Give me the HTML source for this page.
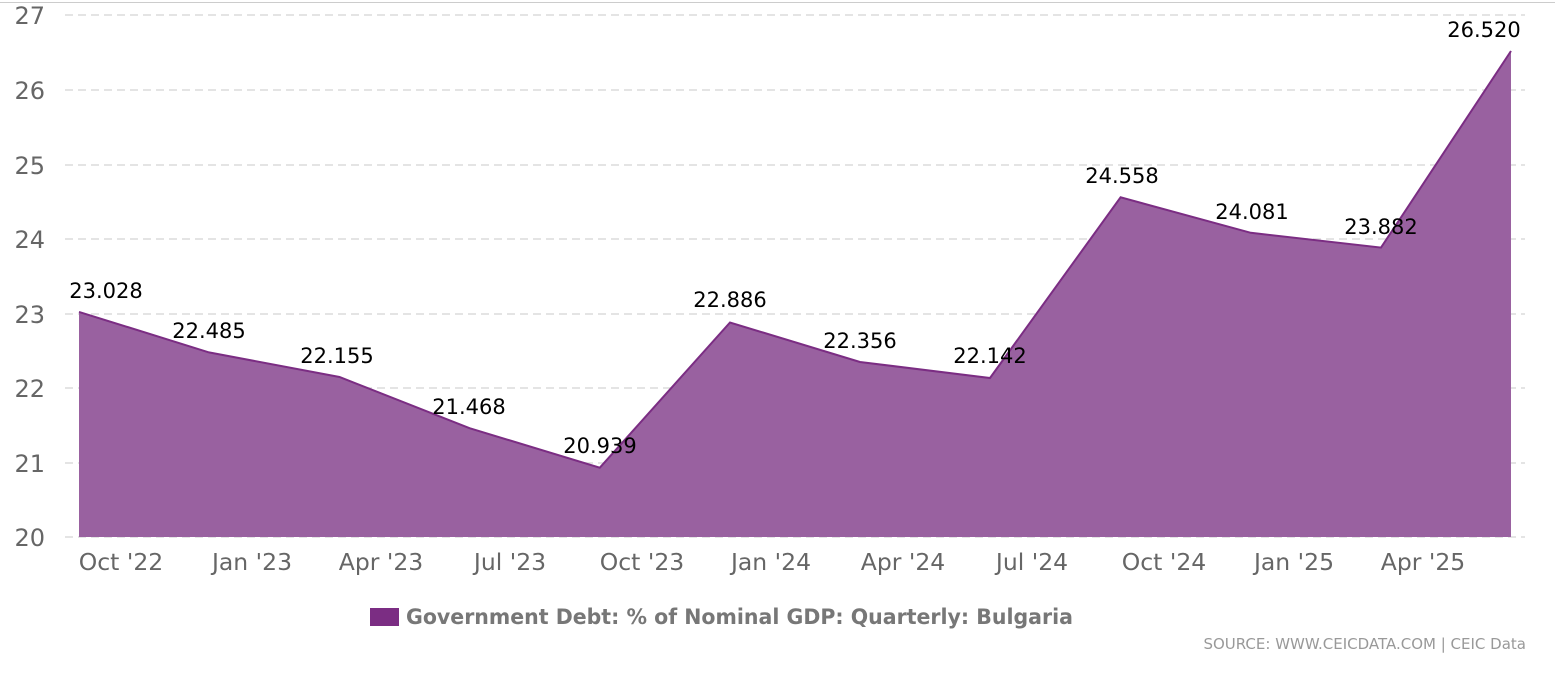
<!DOCTYPE html>
<html><head><meta charset="utf-8"><style>
html,body{margin:0;padding:0;background:#fff;}
svg{display:block;font-family:"DejaVu Sans","Liberation Sans",sans-serif;}
</style></head><body>
<svg width="1555" height="674" viewBox="0 0 1555 674">
<line x1="0" y1="2.5" x2="1555" y2="2.5" stroke="#ccc" stroke-width="1"/>
<g stroke="#dcdcdc" stroke-width="1.5" stroke-dasharray="8,5">
<line x1="65" y1="15" x2="1525" y2="15"/>
<line x1="65" y1="90" x2="1525" y2="90"/>
<line x1="65" y1="165" x2="1525" y2="165"/>
<line x1="65" y1="239" x2="1525" y2="239"/>
<line x1="65" y1="314" x2="1525" y2="314"/>
<line x1="65" y1="388" x2="1525" y2="388"/>
<line x1="65" y1="463" x2="1525" y2="463"/>
<line x1="65" y1="537" x2="1525" y2="537"/>
</g>
<g fill="#666" font-size="24" text-anchor="end">
<text x="45" y="24">27</text><text x="45" y="99">26</text><text x="45" y="174">25</text>
<text x="45" y="248">24</text><text x="45" y="323">23</text><text x="45" y="397">22</text>
<text x="45" y="472">21</text><text x="45" y="546">20</text>
</g>
<polygon fill="#9961a0" points="79,537 79,311.9 209,352.4 339.5,377 469.6,428.2 599.8,467.7 730,322.5 860,362 990,378 1120.6,197.3 1250.8,232.8 1381,247.6 1511,51 1511,537"/>
<polyline fill="none" stroke="#7b2d83" stroke-width="2" points="79,311.9 209,352.4 339.5,377 469.6,428.2 599.8,467.7 730,322.5 860,362 990,378 1120.6,197.3 1250.8,232.8 1381,247.6 1511,51"/>
<g fill="#000" font-size="21" text-anchor="middle">
<text x="106" y="298">23.028</text><text x="209" y="338">22.485</text><text x="337" y="363">22.155</text>
<text x="469" y="414">21.468</text><text x="600" y="453">20.939</text><text x="730" y="307">22.886</text>
<text x="860" y="348">22.356</text><text x="990" y="363">22.142</text><text x="1122" y="183">24.558</text>
<text x="1252" y="219">24.081</text><text x="1381" y="234">23.882</text><text x="1484" y="37">26.520</text>
</g>
<g fill="#666" font-size="23.5" text-anchor="middle">
<text x="121" y="570">Oct '22</text><text x="252" y="570">Jan '23</text><text x="381" y="570">Apr '23</text>
<text x="510" y="570">Jul '23</text><text x="642" y="570">Oct '23</text><text x="771" y="570">Jan '24</text>
<text x="903" y="570">Apr '24</text><text x="1032" y="570">Jul '24</text><text x="1164" y="570">Oct '24</text>
<text x="1294" y="570">Jan '25</text><text x="1423" y="570">Apr '25</text>
</g>
<rect x="370" y="608" width="29" height="18" fill="#7b2d83"/>
<text x="406" y="624" fill="#777" font-size="21" font-weight="bold" textLength="667" lengthAdjust="spacingAndGlyphs">Government Debt: % of Nominal GDP: Quarterly: Bulgaria</text>
<text x="1526" y="649" fill="#999" font-size="15" text-anchor="end">SOURCE: WWW.CEICDATA.COM | CEIC Data</text>
</svg>
</body></html>
